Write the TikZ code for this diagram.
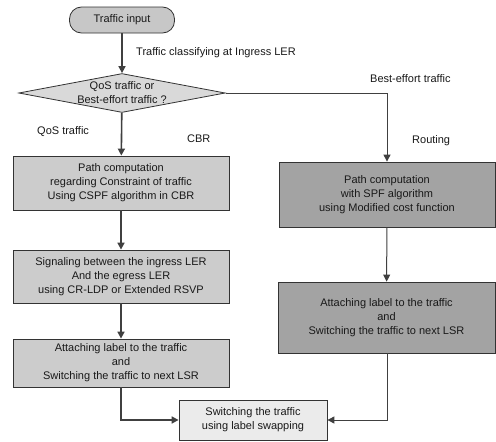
\documentclass[tikz,border=0pt]{standalone}
\usepackage{fontspec}
\setmainfont{Liberation Sans}
\usetikzlibrary{shapes.geometric,arrows.meta}
\begin{document}
\begin{tikzpicture}[x=1pt,y=-1pt,
  every node/.style={font=\fontsize{11}{14}\selectfont, text=black!90},
  boxL/.style={draw=black!80, line width=0.8pt, fill=black!20, align=center, inner sep=0pt},
  boxR/.style={draw=black!80, line width=0.8pt, fill=black!36, align=center, inner sep=0pt},
  flow/.style={draw=black!75, line width=1.6pt, -{Triangle[length=7pt,width=7pt]}},
  flowthin/.style={draw=black!75, line width=1pt, -{Triangle[length=7pt,width=7pt]}},
  lbl/.style={inner sep=0pt}]
\useasboundingbox (0,0) rectangle (496,442);
\fill[white] (0,0) rectangle (496,442);
% terminal
\node[draw=black!80, line width=0.8pt, fill=black!22, rounded corners=12pt,
  minimum width=105pt, minimum height=26pt, inner sep=0pt] (start) at (122,20) {Traffic input};
% diamond
\node[draw=black!80, line width=0.8pt, fill=black!15, diamond, aspect=5.3,
  minimum width=202pt, minimum height=38pt, inner sep=0pt, align=center] (dec) at (122,93)
  {QoS traffic or\\Best-effort traffic ?};
% left column
\node[boxL, minimum width=216pt, minimum height=54pt] (l1) at (121,183)
  {Path computation\\regarding Constraint of traffic\\Using CSPF algorithm in CBR};
\node[boxL, minimum width=216pt, minimum height=53pt] (l2) at (121,276.5)
  {Signaling between the ingress LER\\And the egress LER\\using CR-LDP or Extended RSVP};
\node[boxL, minimum width=216pt, minimum height=48pt] (l3) at (121,363)
  {Attaching label to the traffic\\and\\Switching the traffic to next LSR};
% right column
\node[boxR, minimum width=216pt, minimum height=65pt] (r1) at (387,194.5)
  {Path computation\\with SPF algorithm\\using Modified cost function};
\node[boxR, minimum width=217pt, minimum height=71pt] (r2) at (386.5,317.5)
  {Attaching label to the traffic\\and\\Switching the traffic to next LSR};
% final
\node[draw=black!80, line width=0.8pt, fill=black!8, minimum width=148pt, minimum height=40pt,
  align=center, inner sep=0pt] (fin) at (253,420) {Switching the traffic\\using label swapping};
% connectors
\draw[flow] (start) -- (dec);
\draw[flow] (dec) -- (l1);
\draw[flow] (l1) -- (l2);
\draw[flow] (l2) -- (l3);
\draw[flow] (l3.south) |- (fin.west);
\coordinate (bend) at (387,93);
\draw[flowthin] (dec.east) -- (bend) -- (r1.north);
\draw[flowthin] (r1) -- (r2);
\draw[flowthin] (r2.south -| bend) |- (fin.east);
% labels
\node[lbl, anchor=west] (t1) at (136,53) {Traffic classifying at Ingress LER};
\node[lbl, anchor=west] (t2) at (370,79) {Best-effort traffic};
\node[lbl, anchor=west] (t3) at (37,132) {QoS traffic};
\node[lbl, anchor=west] (t4) at (187,139) {CBR};
\node[lbl, anchor=west] (t5) at (412,141) {Routing};
\end{tikzpicture}
\end{document}
